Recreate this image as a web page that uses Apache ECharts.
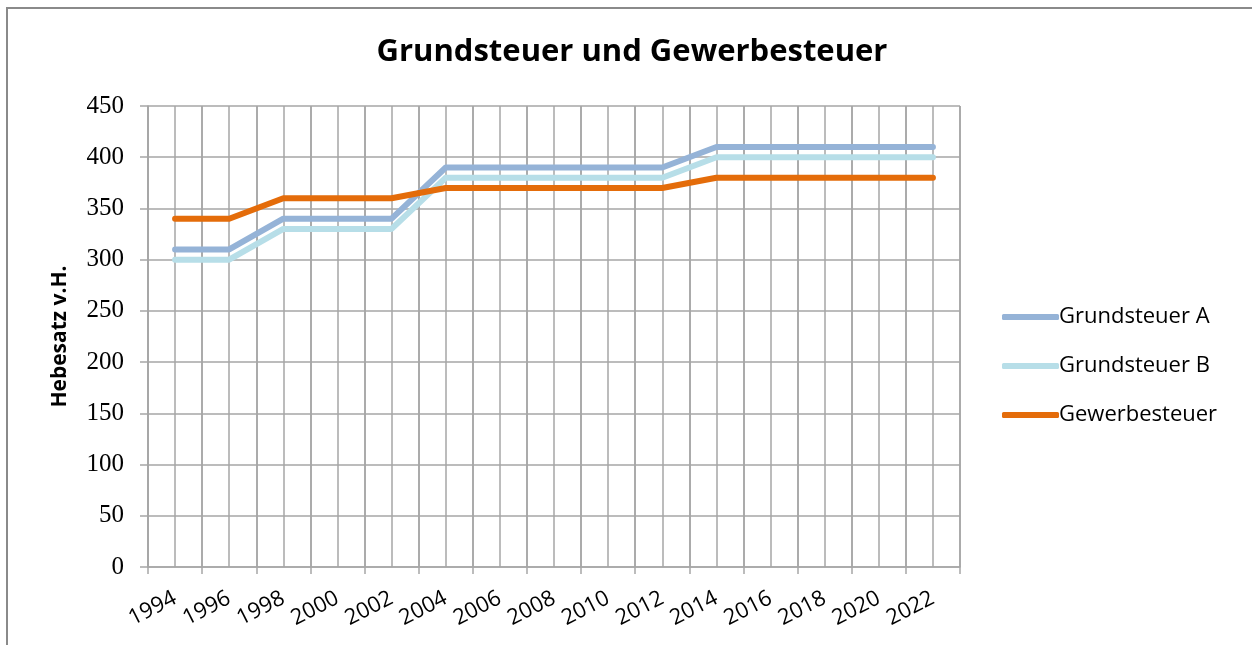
<!DOCTYPE html>
<html>
<head>
<meta charset="utf-8">
<script src="https://cdn.jsdelivr.net/npm/echarts@6/dist/echarts.min.js"></script>
<style>
  html, body { margin: 0; padding: 0; background: #fff; }
  #frame {
    position: absolute; left: 6px; top: 7px; width: 1260px; height: 660px;
    border-left: 2px solid #8a8a8a; border-top: 2px solid #8a8a8a;
  }
  #chart { position: absolute; left: 0; top: 0; width: 1252px; height: 645px; }
</style>
</head>
<body>
<div id="frame"></div>
<div id="chart"></div>
<script>
// Jahre (jeweils alle 2 Jahre)
const years = ['1994', '1996', '1998', '2000', '2002', '2004', '2006', '2008', '2010', '2012', '2014', '2016', '2018', '2020', '2022']

// Hebesätze v.H.
const grundsteuerA = [310, 310, 340, 340, 340, 390, 390, 390, 390, 390, 410, 410, 410, 410, 410]
const grundsteuerB = [300, 300, 330, 330, 330, 380, 380, 380, 380, 380, 400, 400, 400, 400, 400]
const gewerbesteuer = [340, 340, 360, 360, 360, 370, 370, 370, 370, 370, 380, 380, 380, 380, 380]

const yTicks = [0, 50, 100, 150, 200, 250, 300, 350, 400, 450]

const gridColor = '#a6a6a6'
const sansFont = 'Open Sans'

const chart = echarts.init(document.getElementById('chart'))

const lineSeries = (name, data, color) => ({
  name: name,
  type: 'line',
  xAxisIndex: 0,
  data: data,
  showSymbol: false,
  symbol: 'none',
  lineStyle: {width: 6, color: color, cap: 'round', join: 'round'},
  itemStyle: {color: color},
  emphasis: {disabled: true}
})

chart.setOption({
  animation: false,
  title: {
    text: 'Grundsteuer und Gewerbesteuer',
    left: 627,
    textAlign: 'center',
    top: 32,
    textStyle: {fontFamily: sansFont, fontSize: 31, fontWeight: 'bold', color: '#000'}
  },
  legend: {
    orient: 'vertical',
    left: 997,
    top: 301,
    itemWidth: 57,
    itemHeight: 6,
    itemGap: 27,
    icon: 'roundRect',
    textStyle: {fontFamily: sansFont, fontSize: 22, color: '#000', padding: [0, 0, 0, -5]},
    data: ['Grundsteuer A', 'Grundsteuer B', 'Gewerbesteuer']
  },
  grid: {
    left: 148,
    right: 292,
    top: 106,
    bottom: 78,
    containLabel: false,
    outerBoundsMode: 'none'
  },
  xAxis: [
    {
      type: 'category',
      data: years,
      boundaryGap: true,
      axisLine: {lineStyle: {color: gridColor, width: 1.5}},
      axisTick: {show: true, length: 7, lineStyle: {color: gridColor, width: 1.5}},
      splitLine: {show: true, lineStyle: {color: gridColor, width: 1.5}},
      axisLabel: {
        interval: 0,
        rotate: 27,
        margin: 30,
        fontFamily: sansFont,
        fontSize: 22,
        color: '#000'
      }
    },
    {
      // Hilfsachse nur für die feineren senkrechten Gitterlinien
      type: 'value',
      min: 0,
      max: years.length,
      interval: 0.5,
      position: 'top',
      axisLine: {show: false},
      axisTick: {show: false},
      axisLabel: {show: false},
      splitLine: {show: true, lineStyle: {color: gridColor, width: 1.5}}
    }
  ],
  yAxis: {
    type: 'value',
    min: yTicks[0],
    max: yTicks[yTicks.length - 1],
    interval: 50,
    name: 'Hebesatz v.H.',
    nameLocation: 'middle',
    nameGap: 77,
    nameTextStyle: {fontFamily: sansFont, fontSize: 21, fontWeight: 'bold', color: '#000'},
    axisLine: {show: true, lineStyle: {color: gridColor, width: 1.5}},
    axisTick: {show: true, length: 8, lineStyle: {color: gridColor, width: 1.5}},
    splitLine: {show: true, lineStyle: {color: gridColor, width: 1.5}},
    axisLabel: {
      margin: 24,
      fontFamily: 'Liberation Serif',
      fontSize: 25,
      color: '#000'
    }
  },
  series: [
    lineSeries('Grundsteuer A', grundsteuerA, '#95b3d7'),
    lineSeries('Grundsteuer B', grundsteuerB, '#b7dee8'),
    lineSeries('Gewerbesteuer', gewerbesteuer, '#e46c0a')
  ]
})
</script>
</body>
</html>
